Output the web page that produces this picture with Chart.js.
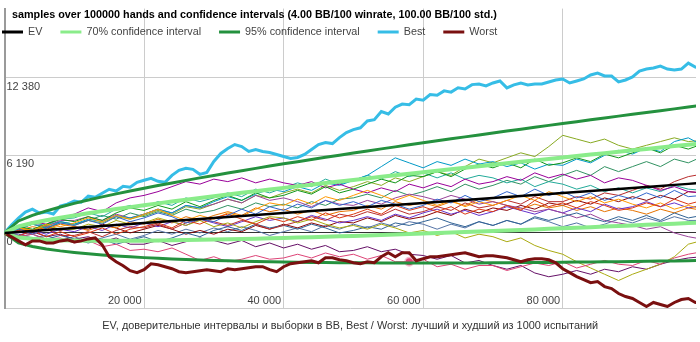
<!DOCTYPE html>
<html><head><meta charset="utf-8">
<script src="https://cdn.jsdelivr.net/npm/chart.js@4.4.1/dist/chart.umd.min.js"></script>
<style>html,body{margin:0;padding:0;background:#fff;}canvas{display:block}</style>
</head><body>
<canvas id="c" width="700" height="342"></canvas>
<script>
const chartTitle = 'samples over 100000 hands and confidence intervals (4.00 BB/100 winrate, 100.00 BB/100 std.)';
const caption = 'EV, доверительные интервалы и выборки в BB, Best / Worst: лучший и худший из 1000 испытаний';
const seriesNames = ['EV', '70% confidence interval', '95% confidence interval', 'Best', 'Worst'];
const xTicks = [20000, 40000, 60000, 80000];
const yTicks = [0, 6190, 12380];

const hands = [0,2000,4000,6000,8000,10000,12000,14000,16000,18000,20000,22000,24000,26000,28000,30000,32000,34000,36000,38000,40000,42000,44000,46000,48000,50000,52000,54000,56000,58000,60000,62000,64000,66000,68000,70000,72000,74000,76000,78000,80000,82000,84000,86000,88000,90000,92000,94000,96000,98000,100000];
const handsFine = [0,1000,2000,3000,4000,5000,6000,7000,8000,9000,10000,11000,12000,13000,14000,15000,16000,17000,18000,19000,20000,21000,22000,23000,24000,25000,26000,27000,28000,29000,30000,31000,32000,33000,34000,35000,36000,37000,38000,39000,40000,41000,42000,43000,44000,45000,46000,47000,48000,49000,50000,51000,52000,53000,54000,55000,56000,57000,58000,59000,60000,61000,62000,63000,64000,65000,66000,67000,68000,69000,70000,71000,72000,73000,74000,75000,76000,77000,78000,79000,80000,81000,82000,83000,84000,85000,86000,87000,88000,89000,90000,91000,92000,93000,94000,95000,96000,97000,98000,99000,100000];

const ev = [0,80,160,240,320,400,480,560,640,720,800,880,960,1040,1120,1200,1280,1360,1440,1520,1600,1680,1760,1840,1920,2000,2080,2160,2240,2320,2400,2480,2560,2640,2720,2800,2880,2960,3040,3120,3200,3280,3360,3440,3520,3600,3680,3760,3840,3920,4000];
const ci70Upper = [0,527,792,1015,1214,1400,1575,1743,1905,2062,2214,2363,2509,2652,2793,2932,3069,3204,3337,3469,3600,3729,3858,3985,4111,4236,4360,4484,4606,4728,4849,4970,5090,5209,5328,5446,5563,5680,5797,5913,6028,6143,6258,6372,6486,6600,6713,6826,6938,7050,7162];
const ci70Lower = [0,-367,-472,-535,-574,-600,-615,-623,-625,-622,-614,-603,-589,-572,-553,-532,-509,-484,-457,-429,-400,-369,-338,-305,-271,-236,-200,-164,-126,-88,-49,-10,30,71,112,154,197,240,283,327,372,417,462,508,554,600,647,694,742,790,838];
const ci95Upper = [0,956,1399,1759,2073,2360,2626,2879,3119,3350,3572,3787,3996,4200,4399,4595,4786,4974,5158,5340,5520,5696,5872,6044,6214,6383,6549,6715,6877,7040,7200,7360,7519,7675,7832,7986,8139,8291,8444,8594,8743,8891,9040,9187,9333,9480,9625,9769,9912,10055,10198];
const ci95Lower = [0,-796,-1079,-1279,-1433,-1560,-1666,-1759,-1839,-1910,-1972,-2027,-2076,-2120,-2159,-2195,-2226,-2254,-2278,-2300,-2320,-2336,-2352,-2364,-2374,-2383,-2389,-2395,-2397,-2400,-2400,-2400,-2399,-2395,-2392,-2386,-2379,-2371,-2364,-2354,-2343,-2331,-2320,-2307,-2293,-2280,-2265,-2249,-2232,-2215,-2198];

const best = [0,635,1190,1667,1905,1587,1667,1508,2143,2302,2540,2450,2936,2850,3174,3492,3350,3730,3650,4047,4206,4365,4127,4047,4603,5000,5159,5079,4682,4841,5714,6349,6746,7063,6904,6508,6666,6508,6428,6269,6111,5952,6031,6269,6666,7063,7222,7142,7619,8015,8253,8400,8950,9050,9700,9500,10050,10300,10250,10700,10600,11050,11000,11350,11250,11600,11500,11850,11900,11745,11983,12142,11587,11825,11983,11825,11904,11904,12063,12221,12301,11983,12142,12301,12618,12777,12539,12539,12063,12221,12460,12936,13094,13174,13332,13094,13015,13094,13570,13253,13174];
const worst = [0,-317,-635,-952,-635,-635,-794,-794,-635,-556,-714,-635,-476,-397,-952,-1905,-2301,-2619,-3016,-3174,-2936,-2460,-2540,-2698,-2857,-3095,-3174,-3095,-3016,-2936,-3016,-3095,-2857,-2936,-2857,-2778,-2698,-2698,-2936,-3095,-2698,-2460,-2381,-2301,-2222,-2381,-1984,-1984,-2143,-2222,-2381,-2460,-2301,-2381,-1905,-1587,-1905,-1587,-1587,-2222,-2063,-1905,-1905,-1825,-1746,-1667,-1587,-1746,-1905,-1825,-1825,-1905,-1984,-2143,-2301,-2143,-2063,-2063,-2143,-2381,-2857,-3174,-3492,-3730,-3968,-3889,-4285,-4444,-4841,-5079,-5238,-5555,-5873,-5555,-5714,-5873,-5555,-5317,-5238,-5555,-5476];

const sample01 = [0,350,-100,400,800,600,1000,700,1300,900,1200,1600,1300,800,1100,900,1400,1900,1500,2100,1800,2300,2000,2600,2200,2500,2100,2600,2300,1900,2200,2700,2400,3000,2500,2800,3300,2900,3500,3000,3300,2800,3200,2600,3000,2700,3200,2800,3400,2900,3000];
const sample02 = [0,-250,200,-300,100,-300,0,400,-100,300,500,800,400,1000,700,1200,1500,1100,700,1200,900,1300,1000,1600,1200,1500,1900,1500,2200,1800,2100,1700,2100,1500,1900,1700,2200,1800,2600,2100,2400,2000,2500,2200,1800,2000,2400,2100,2700,2300,2600];
const sample03 = [0,400,200,700,500,800,1200,900,1400,1100,1500,1900,1400,1000,1400,1100,1600,1300,1900,2400,2200,2700,2300,2900,2600,3000,3400,3000,2600,3000,2600,2200,2600,2100,2500,2200,2600,3000,2600,3300,2900,2500,2900,2400,2700,2300,2000,2400,1900,2200,1900];
const sample04 = [0,500,300,700,1100,900,1300,1000,1600,2000,1800,2200,1900,2500,2100,2600,3000,2600,3200,2800,3000,3400,3100,3700,3200,3500,3900,4300,4000,4600,4500,4900,4500,5100,5500,5200,5600,5200,5900,5400,5600,6000,5700,6300,6000,6400,6800,6400,7000,6700,7100];
const sample05 = [0,500,900,700,1200,1500,2000,1700,2400,2800,3000,3300,3700,4100,3900,4300,4100,4400,4000,4300,4000,3800,4100,3600,3900,3500,3200,3600,3300,3900,3600,4000,3700,4300,3900,4100,4500,4200,4800,4400,4700,4300,4600,4000,4400,4200,3800,3400,3700,3300,3200];
const sample06 = [0,300,700,400,900,700,1100,900,1400,1200,1500,1900,1600,2200,2000,2500,2900,2600,3100,3500,3300,3700,3400,4000,3800,4200,4600,5300,6000,5600,5200,5700,5400,5900,5500,5700,5300,5600,5100,5500,5400,5900,5600,6200,6600,6300,6800,6500,7300,7600,7000];
const sample07 = [0,-300,-100,-500,-400,-800,-600,-1100,-900,-1400,-1300,-1500,-1200,-1700,-2200,-1900,-2300,-2100,-1800,-2100,-2000,-1700,-2000,-1600,-1900,-1700,-2100,-1800,-2300,-2300,-2100,-2700,-2500,-2900,-2600,-2600,-3000,-2700,-2400,-2600,-2300,-2800,-2500,-2200,-2500,-2600,-2200,-2500,-2000,-1700,-1500];
const sample08 = [0,400,200,600,300,300,700,500,1000,700,800,1200,900,600,1000,500,800,400,900,1300,1200,800,1100,700,400,600,300,700,400,0,200,-200,100,-400,-100,-300,-700,-400,-1000,-1400,-1700,-2300,-2800,-3300,-3800,-3300,-2900,-2500,-1900,-900,-600];
const sample09 = [0,200,-100,300,-200,-200,100,-300,200,500,400,700,300,800,1100,900,600,1000,700,300,600,900,1300,1000,1500,1300,1700,1400,1900,1500,1700,2100,1800,2400,2000,2200,2600,2300,2900,2500,2500,2900,2700,3200,3000,3400,3800,3500,4100,4500,4700];
const sample10 = [0,-300,-100,-500,-200,-500,-800,-500,-900,-600,-300,-700,-400,0,-300,200,500,200,700,400,600,300,700,400,0,200,500,300,800,600,900,1200,800,500,900,600,1000,700,1300,1000,1300,1600,1200,900,1300,1000,1400,1000,1600,1200,1400];
const sample11 = [0,300,700,500,1000,1000,1300,1000,1500,1200,1500,1900,1600,2200,2000,2300,2700,2400,3000,2600,2800,2500,2100,2600,2300,2200,2600,2300,2800,3100,2900,2600,3000,2700,2300,2500,2200,2000,1700,1900,1600,1200,1500,1000,800,600,300,500,0,-300,-500];
const sample12 = [0,400,800,600,1100,1200,1600,1300,1900,2200,2100,2500,2200,2800,2500,2800,3200,2900,3500,3200,3600,4000,3700,4300,3900,4200,4600,4300,4900,4500,4800,4400,4800,4300,4600,4400,4000,4300,3700,4100,3900,3500,3800,3300,3600,3200,3600,3300,3800,3500,3400];
const sample13 = [0,300,700,400,800,600,1000,800,1300,1100,1400,1800,1500,2100,1900,2300,2700,2400,3000,2800,3200,3500,3200,3800,3400,3700,4100,3800,4400,4100,4500,4900,4600,5300,5900,5600,6000,6400,6100,6900,7800,7500,7200,7500,7000,6700,7000,7300,7600,7300,7400];
const sample14 = [0,-200,200,-100,300,100,500,200,700,400,800,500,900,600,1100,800,500,900,1300,1000,1200,900,1400,1100,800,1000,1300,1000,1500,1200,1600,1900,1500,1800,1400,1700,2100,1800,1500,1900,1600,2000,1700,2300,1900,2100,2500,2100,2400,2000,2200];
const sample15 = [0,200,500,300,700,500,200,600,400,900,700,1100,800,1300,1000,1400,1700,1400,2000,1700,1900,1500,1800,1400,1700,1800,2200,1900,2500,2200,2400,2100,2500,2200,2700,2500,2200,1900,2300,2000,2200,1800,2100,1700,2000,1800,1500,1900,1600,2000,1800];
const sample16 = [0,300,100,500,200,500,300,700,400,0,300,600,300,-100,200,-100,300,100,600,300,700,400,800,500,900,800,1200,900,1400,1100,1300,1700,1400,1900,1600,2000,1800,2200,1900,2400,2200,2600,2300,2800,2500,2900,2600,3000,2700,3300,3200];
const sample17 = [0,-200,100,-300,-100,-500,-300,-700,-400,-900,-900,-600,-1000,-700,-400,-600,-900,-600,-1100,-800,-1200,-900,-1300,-1000,-1500,-1400,-1100,-1500,-1300,-1700,-1800,-2100,-1800,-2400,-2200,-2600,-2900,-2600,-3200,-3500,-3300,-3000,-3300,-2900,-3100,-2700,-2900,-2500,-2200,-2000,-1900];
const sample18 = [0,400,200,600,900,700,1000,1400,1100,1600,1300,1700,1400,1900,1600,1800,2200,1900,2400,2100,2300,2000,2500,2200,2700,2800,3100,2800,3400,3000,3300,3700,3300,3900,3500,3800,4200,3900,4500,4100,4600,5000,4600,5300,4900,5300,5700,5300,5900,5600,6100];
const sample19 = [0,-100,-400,-200,-600,-300,-700,-400,-100,-500,-200,200,-100,300,0,400,100,500,200,-200,100,400,100,600,300,700,400,800,500,900,700,300,700,400,900,600,1000,700,1200,900,500,800,400,700,1100,800,1200,900,1300,1000,1000];

const samples = [sample01,sample02,sample03,sample04,sample05,sample06,sample07,sample08,sample09,sample10,sample11,sample12,sample13,sample14,sample15,sample16,sample17,sample18,sample19];
const sampleColors = ['#3366cc','#dc3912','#ff9900','#109618','#990099','#0099c6','#dd4477','#aaaa11','#b82e2e','#316395','#994499','#22aa99','#88aa22','#6633cc','#e67300','#8b0707','#651067','#329262','#5574a6'];
const highlightSample = 6, highlightIndex = 29;

const FONT = '"Liberation Sans", Arial, Helvetica, sans-serif';
Chart.defaults.font.family = FONT;
const fmt = v => String(v).replace(/\B(?=(\d{3})+(?!\d))/g, ' ');
const pts = (xs, ys) => ys.map((y, i) => ({x: xs[i], y}));

const lineDs = (label, xs, ys, color, width) => ({
  label, data: pts(xs, ys), borderColor: color, backgroundColor: color,
  borderWidth: width, pointRadius: 0, tension: 0, fill: false
});

const datasets = [
  lineDs(seriesNames[0], hands, ev, '#000000', 2.5),
  lineDs(seriesNames[1], hands, ci70Upper, '#8aec8a', 4),
  lineDs(seriesNames[2], hands, ci95Upper, '#24913e', 3),
  lineDs(seriesNames[3], handsFine, best, '#36bde6', 3),
  lineDs(seriesNames[4], handsFine, worst, '#7a1010', 3),
  lineDs('70% lower', hands, ci70Lower, '#8aec8a', 4),
  lineDs('95% lower', hands, ci95Lower, '#24913e', 3)
];
samples.forEach((s, i) => {
  const d = lineDs('sample ' + (i + 1), hands, s, sampleColors[i], 1);
  if (i === highlightSample) {
    d.pointRadius = s.map((v, j) => j === highlightIndex ? 3.5 : 0);
    d.pointBackgroundColor = '#dd4477';
    d.pointBorderColor = 'rgba(221,68,119,0.35)';
    d.pointBorderWidth = 3;
  }
  datasets.push(d);
});

const overlay = {
  id: 'overlay',
  afterDraw(chart) {
    const ctx = chart.ctx;
    ctx.save();
    ctx.textBaseline = 'middle';
    ctx.textAlign = 'left';
    ctx.fillStyle = '#000';
    ctx.font = 'bold 10.8px ' + FONT;
    ctx.fillText(chartTitle, 12, 15);
    ctx.font = '10.8px ' + FONT;
    let x = 2;
    const ly = 32;
    seriesNames.forEach((name, i) => {
      ctx.strokeStyle = chart.data.datasets[i].borderColor;
      ctx.lineWidth = 3;
      ctx.beginPath(); ctx.moveTo(x, ly); ctx.lineTo(x + 21, ly); ctx.stroke();
      ctx.fillStyle = '#444';
      ctx.fillText(name, x + 26, ly);
      x += 26 + ctx.measureText(name).width + 18;
    });
    ctx.restore();
  }
};

new Chart(document.getElementById('c'), {
  type: 'line',
  data: { datasets },
  plugins: [overlay],
  options: {
    responsive: false,
    animation: false,
    events: [],
    layout: { autoPadding: false, padding: { left: 0.5, right: 4, top: 0, bottom: 0 } },
    plugins: { legend: { display: false }, title: { display: false }, tooltip: { enabled: false } },
    scales: {
      x: {
        type: 'linear', min: 0, max: 99100,
        afterBuildTicks: s => { s.ticks = xTicks.map(v => ({value: v})); },
        ticks: { mirror: true, align: 'end', padding: 1, labelOffset: -2.5, maxRotation: 0, minRotation: 0, autoSkip: false,
                 color: '#444', font: { size: 11 }, callback: v => fmt(v) },
        grid: { color: '#cccccc', drawTicks: false, lineWidth: 1 },
        border: { display: true, color: '#cccccc', width: 1 },
        title: { display: true, text: caption, color: '#333', font: { size: 10.9 }, padding: { top: 9.4, bottom: 9.4 } }
      },
      y: {
        type: 'linear', min: -6006, max: 17923,
        afterBuildTicks: s => { s.ticks = yTicks.map(v => ({value: v})); },
        ticks: { mirror: true, padding: 2, labelOffset: 9, color: '#444', font: { size: 11 }, autoSkip: false, callback: v => fmt(v) },
        grid: { color: c => (c.tick && c.tick.value === 0) ? '#333333' : '#cccccc', drawTicks: false, lineWidth: 1 },
        border: { display: true, color: '#9a9a9a', width: 2 }
      }
    }
  }
});
</script>
</body></html>
